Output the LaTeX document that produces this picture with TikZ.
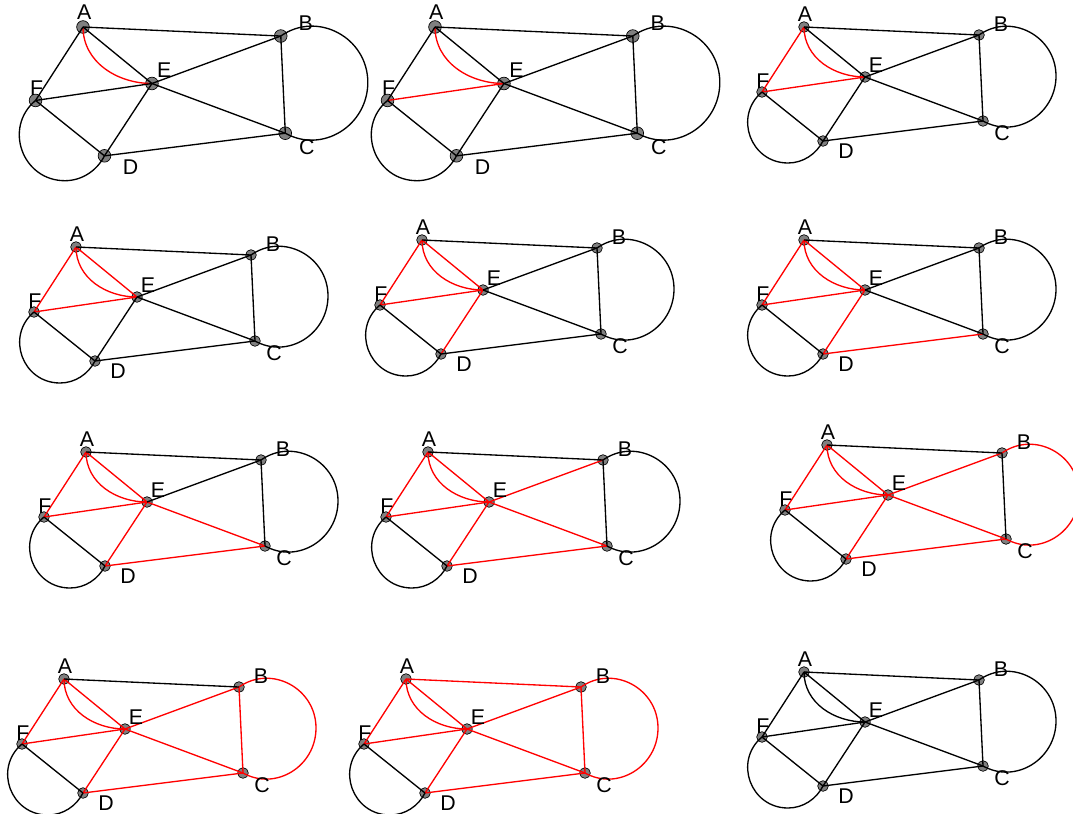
\documentclass[tikz,border=0pt]{standalone}
\usepackage{fontspec}
\setmainfont{Liberation Sans}
\usetikzlibrary{positioning}
\tikzset{
    Node/.style = {circle, draw=black, fill=gray, line width=0.5pt, inner sep=0pt, minimum size=8pt}
}
\tikzset{
    Edge/.style = {draw=black, line width=1pt},
    Walked/.style = {draw=red, line width=1pt},
    Label/.style = {inner sep=0pt, font=\fontsize{16}{16}\selectfont}
}
% edge #1 of the tour, red once it has been walked
\newcommand{\tourEdge}[2]{%
  \ifnum#1>\walked\relax
    \draw[Edge] #2;
  \else
    \draw[Walked] #2;
  \fi}

\begin{document}
\begin{tikzpicture}[x=0.75pt, y=0.75pt]
\useasboundingbox (0,0) rectangle (1073,-813);
\clip (0,0) rectangle (1073,-813);
\foreach \ox/\oy/\s/\k/\r in {83/27/1.13/1/9.5pt, 435/27/1.13/2/9.5pt, 804/27/1/3/8pt,
    76/247/1/4/8pt, 422/240/1/5/8pt, 804/240/1/6/8pt,
    86/452/1/7/8pt, 428/452/1/8/8pt, 827/445/1/9/8pt,
    64/679/1/10/8pt, 406/679/1/11/8pt, 804/672/1/0/8pt}{
\begin{scope}[shift={(\ox,-\oy)}, scale=\s]
\def\walked{\k}
\node[Node, minimum size=\r] at (0,0) (A) {};
\node[Node, minimum size=\r] at (175,-8) (B) {};
\node[Node, minimum size=\r] at (179,-94) (C) {};
\node[Node, minimum size=\r] at (19,-114) (D) {};
\node[Node, minimum size=\r] at (61,-50) (E) {};
\node[Node, minimum size=\r] at (-42,-65) (F) {};
\coordinate (BCright) at (252,-49);
\coordinate (FDlow) at (-16,-136);
\tourEdge{1}{(A.center) to[out=-90, in=180] (E.center)}
\tourEdge{2}{(E.center) -- (F.center)}
\tourEdge{3}{(F.center) -- (A.center)}
\tourEdge{4}{(A.center) -- (E.center)}
\tourEdge{5}{(E.center) -- (D.center)}
\tourEdge{6}{(D.center) -- (C.center)}
\tourEdge{7}{(C.center) -- (E.center)}
\tourEdge{8}{(E.center) -- (B.center)}
\tourEdge{9}{(B.center) to[out=35, in=90, looseness=1.16] (BCright)
                        to[out=-90, in=-29, looseness=1.13] (C.center)}
\tourEdge{10}{(C.center) -- (B.center)}
\tourEdge{11}{(B.center) -- (A.center)}
\tourEdge{12}{(F.center) -- (D.center)}
\tourEdge{13}{(F.center) to[out=220, in=180, looseness=1.27] (FDlow)
                         to[out=0, in=243, looseness=0.92] (D.center)}
\node[Label] at (1,13) (lA) {A};
\node[Label] at (197,3) (lB) {B};
\node[Label] at (198,-106) (lC) {C};
\node[Label] at (42,-124) (lD) {D};
\node[Label] at (72,-38) (lE) {E};
\node[Label] at (-41,-54) (lF) {F};
\end{scope}
}
\end{tikzpicture}
\end{document}
